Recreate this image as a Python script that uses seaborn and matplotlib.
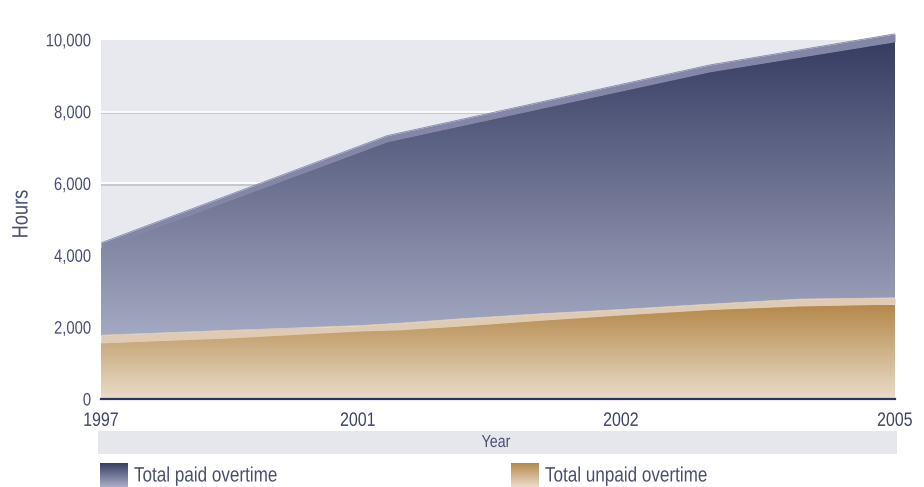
import numpy as np
import pandas as pd
import matplotlib
matplotlib.use("Agg")
import matplotlib.pyplot as plt
import matplotlib.patheffects as pe
from matplotlib.colors import LinearSegmentedColormap
from matplotlib.patches import PathPatch, Rectangle
from matplotlib.transforms import Affine2D
import seaborn as sns

# ---- data ----
years = ["1997", "2001", "2002", "2005"]
year_pos = [0.0, 0.971, 1.965, 3.0]          # category positions on the time axis

paid_x = [0.0, 1.081, 2.301, 3.0]
paid_hours = [4200, 7160, 9110, 9945]        # total paid overtime (stack top)
paid_edge = [4345, 7330, 9300, 10165]        # lighter rim on top of paid area

unpaid_x = [0.0, 0.487, 0.971, 1.130, 1.356, 1.659, 1.965, 2.301, 2.641, 3.0]
unpaid_hours = [1560, 1700, 1890, 1925, 2030, 2190, 2340, 2490, 2590, 2640]
unpaid_edge = [1775, 1910, 2040, 2110, 2230, 2370, 2490, 2640, 2780, 2815]

y_ticks = [0, 2000, 4000, 6000, 8000, 10000]
series_names = ["Total paid overtime", "Total unpaid overtime"]

# ---- style ----
sns.set_style("white")
plt.rcParams["font.family"] = ["Liberation Sans Narrow", "Liberation Sans", "DejaVu Sans"]
TXT = "#4a4f72"


class Condense(pe.AbstractPathEffect):
    """Draw text horizontally condensed (the reference uses a narrow face)."""

    def __init__(self, sx=0.82, anchor="left"):
        super().__init__()
        self.sx = sx
        self.anchor = anchor

    def draw_path(self, renderer, gc, tpath, affine, rgbFace=None):
        w = tpath.get_extents().x1
        shift = {"left": 0.0, "center": (1 - self.sx) * w / 2, "right": (1 - self.sx) * w}[self.anchor]
        pre = Affine2D().scale(self.sx, 1).translate(shift, 0)
        renderer.draw_path(gc, tpath, pre + affine, rgbFace)


W, H = 924, 487
fig = plt.figure(figsize=(W / 100, H / 100), dpi=100)
ax = fig.add_axes([101 / W, (H - 399) / H, 794 / W, 370 / H])
ax.set_facecolor("none")

ax.axhspan(0, 10000, color="#e8e9ee", zorder=0, lw=0)
for yv in y_ticks[1:-1]:
    ax.axhline(yv, color="white", lw=1.3, zorder=1,
               path_effects=[pe.SimpleLineShadow(offset=(0, -1.2), shadow_color="#c3c4d3", alpha=1),
                             pe.Normal()])


def gradient_area(x, lo, hi, c_top, c_bot, y_top, y_bot, z):
    poly = ax.fill_between(x, lo, hi, facecolor="none", edgecolor="none", zorder=z)
    path = poly.get_paths()[0]
    patch = PathPatch(path, transform=ax.transData, facecolor="none", edgecolor="none")
    ax.add_patch(patch)
    cmap = LinearSegmentedColormap.from_list("g", [c_bot, c_top])
    grad = np.linspace(0, 1, 256).reshape(-1, 1)
    im = ax.imshow(grad, extent=[0, 3, y_bot, y_top], origin="lower", aspect="auto",
                   cmap=cmap, zorder=z, interpolation="bilinear")
    im.set_clip_path(patch)


# unpaid (bottom layer)
gradient_area(unpaid_x, 0, unpaid_hours, "#b5894a", "#e9dcca", 2600, 0, 3)
ax.fill_between(unpaid_x, unpaid_hours, unpaid_edge, color="#dfcab2", lw=0, zorder=3)

# paid (stacked above unpaid)
ux = sorted(set(unpaid_x) | set(paid_x))
gradient_area(ux, np.interp(ux, unpaid_x, unpaid_edge), np.interp(ux, paid_x, paid_hours),
              "#353c61", "#a5aac3", 10000, 1700, 2)
ax.fill_between(paid_x, paid_hours, paid_edge, color="#8386a6", lw=0, zorder=2)

df = pd.DataFrame({"x": paid_x, "y": paid_edge})
sns.lineplot(data=df, x="x", y="y", ax=ax, color="#8386a6", lw=0.6, zorder=2)
df2 = pd.DataFrame({"x": unpaid_x, "y": unpaid_edge})
sns.lineplot(data=df2, x="x", y="y", ax=ax, color="#dfcab2", lw=0.6, zorder=3)

ax.set_xlim(0, 3)
ax.set_ylim(0, 10300)
ax.set_xlabel("")
ax.set_ylabel("")
for s in ["top", "right", "left"]:
    ax.spines[s].set_visible(False)
ax.spines["bottom"].set_color("#2e3462")
ax.spines["bottom"].set_linewidth(1.6)
ax.spines["bottom"].set_zorder(6)

ax.set_yticks(y_ticks)
ax.set_yticklabels([f"{v:,}" for v in y_ticks])
ax.tick_params(axis="y", length=4, width=1, color="#b9bac9", pad=3, labelsize=13, labelcolor=TXT)
ax.yaxis.get_major_ticks()[0].tick1line.set_color("#2e3462")
ax.set_xticks(year_pos)
ax.set_xticklabels(years)
ax.tick_params(axis="x", length=4.5, width=1.5, color="#2e3462", pad=5.5, labelsize=14,
               labelcolor="#3e4468")
for lab in ax.get_yticklabels():
    lab.set_path_effects([Condense(anchor="right")])
for lab in ax.get_xticklabels():
    lab.set_path_effects([Condense(anchor="center")])

fig.text(22 / W, 1 - 214 / H, "Hours", rotation=90, ha="center", va="center",
         fontsize=16, color=TXT, path_effects=[Condense(anchor="center")])

# x-axis title band
fig.add_artist(Rectangle((98 / W, 1 - 454 / H), 799 / W, 23 / H, transform=fig.transFigure,
                         color="#e6e7ec", lw=0))
fig.text(496 / W, 1 - 442.5 / H, "Year", ha="center", va="center", fontsize=12.5, color=TXT,
         path_effects=[Condense(anchor="center")])

# legend with gradient swatches
grad = np.linspace(0, 1, 64).reshape(-1, 1)
legend_items = [(100, series_names[0], "#383f65", "#a9adc6"),
                (511, series_names[1], "#b5894a", "#ebdccb")]
for px, name, ctop, cbot in legend_items:
    lax = fig.add_axes([px / W, 0, 28 / W, 24 / H])
    lax.imshow(grad, cmap=LinearSegmentedColormap.from_list("l", [cbot, ctop]),
               origin="lower", aspect="auto", extent=[0, 1, 0, 1])
    lax.axis("off")
    fig.text((px + 34) / W, 1 - 476 / H, name, ha="left", va="center", fontsize=15, color=TXT,
             path_effects=[Condense(anchor="left")])

fig.savefig("out.png", dpi=100)
